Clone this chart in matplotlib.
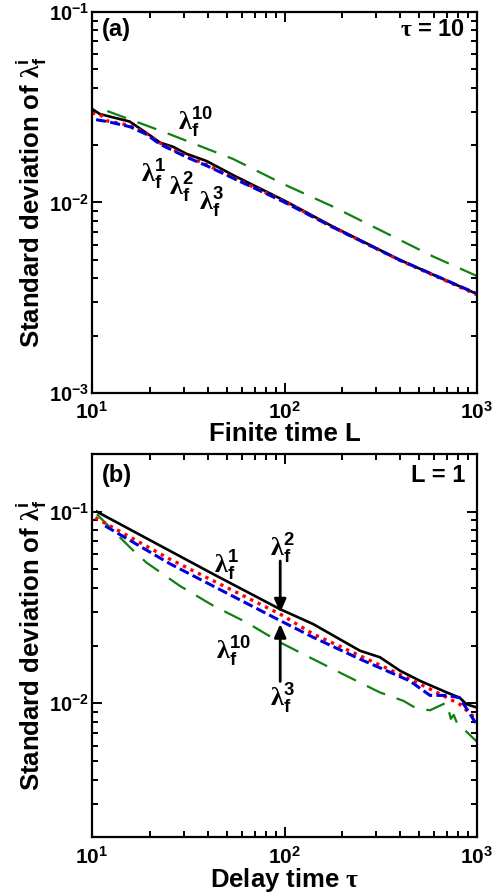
import matplotlib
matplotlib.use("Agg")
import matplotlib.pyplot as plt
from matplotlib.ticker import LogLocator, FixedLocator, FixedFormatter, NullFormatter

plt.rcParams['font.family'] = ['Liberation Sans', 'DejaVu Sans']
plt.rcParams['font.weight'] = 'bold'
plt.rcParams['mathtext.fontset'] = 'custom'
plt.rcParams['mathtext.rm'] = 'Liberation Serif'
plt.rcParams['mathtext.it'] = 'Liberation Sans:bold'
plt.rcParams['mathtext.bf'] = 'Liberation Sans:bold'
plt.rcParams['mathtext.default'] = 'bf'

# ---------------- data: panel (a), tau = 10 ----------------
L_a1 = [10, 11, 15.7, 20.4, 22.6, 26.4, 31, 39.4, 54.2, 98.6, 179, 398, 1000]
sd_a1 = [0.0310, 0.0291, 0.0266, 0.0222, 0.0206, 0.0196, 0.0180, 0.0165, 0.0139, 0.0103, 0.00746, 0.00499, 0.00331]
L_a2 = [10, 11, 12, 15.7, 19, 22.6, 31, 39.4, 54.2, 98.6, 179, 398, 1000]
sd_a2 = [0.0295, 0.0290, 0.0268, 0.0254, 0.0232, 0.0205, 0.0175, 0.0158, 0.0135, 0.0102, 0.00742, 0.00497, 0.00328]
L_a3 = [10.5, 12, 15.7, 19, 22.6, 31, 39.4, 54.2, 98.6, 179, 398, 1000]
sd_a3 = [0.0272, 0.0266, 0.0250, 0.0229, 0.0202, 0.0173, 0.0156, 0.0134, 0.0101, 0.00740, 0.00498, 0.00332]
L_a10 = [12, 23.5, 54.2, 98.6, 179, 593, 1000]
sd_a10 = [0.0302, 0.0235, 0.0169, 0.0125, 0.0095, 0.0052, 0.00411]

# ---------------- data: panel (b), L = 1 ----------------
tau_b1 = [10.6, 42.7, 94.8, 141, 247, 313, 398, 506, 696, 812, 882, 1000]
sd_b1 = [0.100, 0.0472, 0.0310, 0.0259, 0.0188, 0.0174, 0.0148, 0.0131, 0.0114, 0.0107, 0.0099, 0.0095]
tau_b2 = [10.4, 25.4, 95, 141, 247, 447, 641, 812, 950, 1000]
sd_b2 = [0.093, 0.0565, 0.0292, 0.0230, 0.0177, 0.0134, 0.0112, 0.0099, 0.0086, 0.0085]
tau_b3 = [11.7, 25.4, 95, 141, 247, 447, 570, 696, 812, 1000]
sd_b3 = [0.0843, 0.0535, 0.0270, 0.0221, 0.0170, 0.0131, 0.0110, 0.0110, 0.0107, 0.0077]
tau_b10 = [10.6, 15.8, 19.2, 28.6, 42.7, 63.6, 94.8, 141, 210, 313, 415, 485, 570, 696, 731, 757, 795, 870, 1000]
sd_b10 = [0.0969, 0.0649, 0.0542, 0.0410, 0.0323, 0.0264, 0.0208, 0.0170, 0.0139, 0.0114, 0.0103, 0.0094, 0.0092, 0.0101, 0.0083, 0.0087, 0.0077, 0.0072, 0.0063]

xticks = [10, 100, 1000]
xticklabels = [r'$\mathbf{10^{1}}$', r'$\mathbf{10^{2}}$', r'$\mathbf{10^{3}}$']
yticks_a = [1e-3, 1e-2, 1e-1]
yticklabels_a = [r'$\mathbf{10^{-3}}$', r'$\mathbf{10^{-2}}$', r'$\mathbf{10^{-1}}$']
yticks_b = [1e-2, 1e-1]
yticklabels_b = [r'$\mathbf{10^{-2}}$', r'$\mathbf{10^{-1}}$']

fig = plt.figure(figsize=(5, 8.93), dpi=100)
ax1 = fig.add_axes([0.184, 0.5599, 0.77, 0.4267])
ax2 = fig.add_axes([0.184, 0.0624, 0.77, 0.4292])

sty = dict(
    k=dict(color='black', lw=1.9, ls='-'),
    r=dict(color='#ff0000', lw=2.4, ls=(0, (1, 1.5)), dash_capstyle='butt'),
    b=dict(color='#0000dd', lw=2.2, ls=(0, (3.3, 1.4)), dash_capstyle='butt'),
    g=dict(color='#108010', lw=1.6, ls=(0, (9, 5.5)), dash_capstyle='butt'),
)

ax1.plot(L_a10, sd_a10, **sty['g'])
ax1.plot(L_a1, sd_a1, **sty['k'])
ax1.plot(L_a2, sd_a2, **sty['r'])
ax1.plot(L_a3, sd_a3, **sty['b'])

ax2.plot(tau_b10, sd_b10, **sty['g'])
ax2.plot(tau_b1, sd_b1, **sty['k'])
ax2.plot(tau_b2, sd_b2, **sty['r'])
ax2.plot(tau_b3, sd_b3, **sty['b'])

for ax, yt, ytl, ylim in [(ax1, yticks_a, yticklabels_a, (1e-3, 1e-1)),
                          (ax2, yticks_b, yticklabels_b, (2e-3, 2e-1))]:
    ax.set_xscale('log')
    ax.set_yscale('log')
    ax.set_xlim(10, 1000)
    ax.set_ylim(*ylim)
    ax.xaxis.set_major_locator(FixedLocator(xticks))
    ax.xaxis.set_major_formatter(FixedFormatter(xticklabels))
    ax.yaxis.set_major_locator(FixedLocator(yt))
    ax.yaxis.set_major_formatter(FixedFormatter(ytl))
    ax.xaxis.set_minor_locator(LogLocator(base=10, subs=range(2, 10)))
    ax.yaxis.set_minor_locator(LogLocator(base=10, subs=range(2, 10)))
    ax.xaxis.set_minor_formatter(NullFormatter())
    ax.yaxis.set_minor_formatter(NullFormatter())
    ax.tick_params(which='both', direction='in', top=True, right=True, width=1.4)
    ax.tick_params(which='major', length=7, labelsize=15, pad=6)
    ax.tick_params(which='minor', length=4)
    ax.tick_params(axis='y', which='major', labelsize=14.5, pad=2)
    for s in ax.spines.values():
        s.set_linewidth(1.6)
    ax.set_ylabel(r'Standard deviation of $\mathrm{\lambda}_{f}^{i}$', fontsize=18.5, fontweight='bold', labelpad=0)

ax1.set_xlabel('Finite time L', fontsize=18.5, fontweight='bold', labelpad=-1)
ax2.set_xlabel(r'Delay time $\mathrm{\tau}$', fontsize=18.5, fontweight='bold', labelpad=-1)

ax1.text(0.025, 0.955, '(a)', transform=ax1.transAxes, fontsize=17, fontweight='bold', va='center', ha='left')
ax1.text(0.97, 0.955, r'$\mathrm{\tau}$ = 10', transform=ax1.transAxes, fontsize=17, fontweight='bold', va='center', ha='right')
ax2.text(0.025, 0.945, '(b)', transform=ax2.transAxes, fontsize=17, fontweight='bold', va='center', ha='left')
ax2.text(0.97, 0.945, 'L = 1', transform=ax2.transAxes, fontsize=17, fontweight='bold', va='center', ha='right')

lab = lambda i: r'$\mathrm{\lambda}_{f}^{%s}$' % i
fs = 19
ax1.text(34.3, 0.0262, lab('10'), fontsize=fs, ha='center', va='center')
ax1.text(20.8, 0.0140, lab('1'), fontsize=fs, ha='center', va='center')
ax1.text(29.2, 0.0119, lab('2'), fontsize=fs, ha='center', va='center')
ax1.text(41.9, 0.0099, lab('3'), fontsize=fs, ha='center', va='center')

ax2.text(49.7, 0.0520, lab('1'), fontsize=fs, ha='center', va='center')
ax2.text(98, 0.0640, lab('2'), fontsize=fs, ha='center', va='center')
ax2.text(54, 0.0185, lab('10'), fontsize=fs, ha='center', va='center')
ax2.text(98, 0.0105, lab('3'), fontsize=fs, ha='center', va='center')

ap = dict(arrowstyle='-|>,head_length=0.8,head_width=0.35', color='black', lw=2, shrinkA=0, shrinkB=0)
ax2.annotate('', xy=(95, 0.0297), xytext=(95, 0.0553), arrowprops=ap)
ax2.annotate('', xy=(95, 0.0260), xytext=(95, 0.0130), arrowprops=ap)

fig.savefig('out.png', dpi=100)
